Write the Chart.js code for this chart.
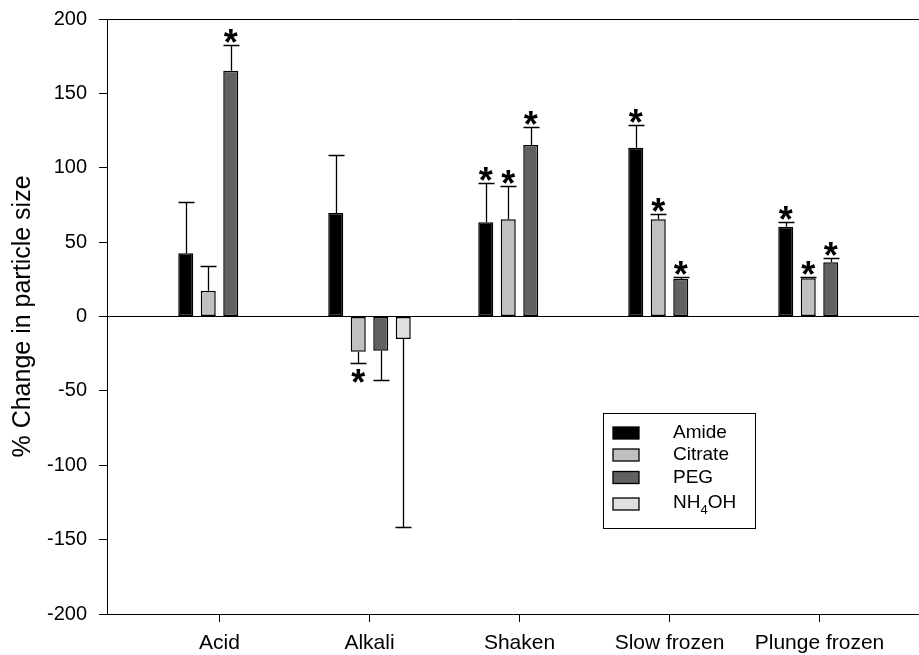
<!DOCTYPE html>
<html>
<head>
<meta charset="utf-8">
<script src="https://cdn.jsdelivr.net/npm/chart.js@4.4.0/dist/chart.umd.min.js"></script>
<style>
html, body { margin: 0; padding: 0; background: #fff; }
</style>
</head>
<body>
<canvas id="sizechart" width="919" height="655"></canvas>
<script>
var categories = ['Acid', 'Alkali', 'Shaken', 'Slow frozen', 'Plunge frozen'];
var amide   = [42.5, 69.5, 63.3, 113.5, 60.4];
var citrate = [17.3, -23.7, 65.3, 65.3, 25.7];
var peg     = [165.2, -23.0, 115.3, 25.2, 36.4];
var nh4oh   = [null, -15.1, null, null, null];
// end of each error bar (mean + SD, or mean - SD for the negative bars)
var amideErr   = [76.8, 108.6, 90.0, 129.0, 63.7];
var citrateErr = [34.2, -31.5, 87.5, 69.1, 26.8];
var pegErr     = [182.7, -42.7, 127.6, 26.8, 39.5];
var nh4ohErr   = [null, -141.3, null, null, null];
// asterisk = significant change
var amideSig   = [false, false, true, true, true];
var citrateSig = [false, true, true, true, true];
var pegSig     = [true, false, true, true, true];
var nh4ohSig   = [false, false, false, false, false];

var FONT = '"Liberation Sans", Arial, sans-serif';

function pts(vals) {
    return vals.map(function (v, i) { return { x: i + 1, y: v }; });
}

function makeSet(label, vals, errs, sig, color) {
    return {
        label: label,
        data: pts(vals),
        errs: errs,
        sig: sig,
        backgroundColor: color,
        borderColor: '#000',
        borderWidth: 1.5,
        borderSkipped: false
    };
}

var errorBars = {
    id: 'errorBars',
    afterDatasetsDraw: function (chart) {
        var ctx = chart.ctx, ys = chart.scales.y;
        ctx.save();
        ctx.strokeStyle = '#000';
        ctx.fillStyle = '#000';
        ctx.lineWidth = 1.3;
        ctx.font = 'bold 36px ' + FONT;
        ctx.textAlign = 'left';
        ctx.textBaseline = 'alphabetic';
        var m = ctx.measureText('*');
        chart.data.datasets.forEach(function (ds, i) {
            var meta = chart.getDatasetMeta(i);
            meta.data.forEach(function (bar, j) {
                if (ds.data[j].y === null || ds.errs[j] === null) return;
                var x = Math.round(bar.x) + 0.5;
                var yEnd = Math.round(ys.getPixelForValue(ds.errs[j])) + 0.5;
                ctx.beginPath();
                ctx.moveTo(x, bar.y);
                ctx.lineTo(x, yEnd);
                ctx.moveTo(x - 8, yEnd);
                ctx.lineTo(x + 8, yEnd);
                ctx.stroke();
                if (ds.sig[j]) {
                    var x0 = bar.x - (m.actualBoundingBoxRight - m.actualBoundingBoxLeft) / 2;
                    var base;
                    if (ds.data[j].y >= 0) {
                        base = yEnd - 3 - m.actualBoundingBoxDescent;
                    } else {
                        base = yEnd + 5 + m.actualBoundingBoxAscent;
                    }
                    ctx.fillText('*', x0, base);
                }
            });
        });
        ctx.restore();
    }
};

var boxLegend = {
    id: 'boxLegend',
    afterDraw: function (chart) {
        var ctx = chart.ctx;
        var rows = [433, 455, 477.5, 503];
        ctx.save();
        ctx.strokeStyle = '#000';
        ctx.lineWidth = 1;
        ctx.strokeRect(603.5, 413.5, 152, 115);
        ctx.font = '19px ' + FONT;
        ctx.textBaseline = 'middle';
        ctx.textAlign = 'left';
        chart.data.datasets.forEach(function (ds, i) {
            var cy = rows[i];
            var sy = i === 3 ? 504 : cy;
            ctx.fillStyle = ds.backgroundColor;
            ctx.fillRect(613, sy - 6, 26, 12);
            ctx.lineWidth = 1.3;
            ctx.strokeRect(613, sy - 6, 26, 12);
            ctx.fillStyle = '#000';
            if (ds.label === 'NH4OH') {
                var tx = 673;
                ctx.font = '19px ' + FONT;
                ctx.fillText('NH', tx, cy);
                tx += ctx.measureText('NH').width;
                ctx.font = '13px ' + FONT;
                ctx.fillText('4', tx, cy + 7);
                tx += ctx.measureText('4').width;
                ctx.font = '19px ' + FONT;
                ctx.fillText('OH', tx, cy);
            } else {
                ctx.fillText(ds.label, 673, cy);
            }
        });
        ctx.restore();
    }
};

var sizectx = document.getElementById('sizechart').getContext('2d');
var sizechart = new Chart(sizectx, {
    type: 'bar',
    data: {
        datasets: [
            makeSet('Amide', amide, amideErr, amideSig, '#000000'),
            makeSet('Citrate', citrate, citrateErr, citrateSig, '#c0c0c0'),
            makeSet('PEG', peg, pegErr, pegSig, '#616161'),
            makeSet('NH4OH', nh4oh, nh4ohErr, nh4ohSig, '#e0e0e0')
        ]
    },
    options: {
        responsive: false,
        animation: false,
        devicePixelRatio: 1,
        categoryPercentage: 0.6,
        barPercentage: 0.667,
        layout: { padding: { top: 19, right: 0, bottom: 0, left: 0 } },
        plugins: {
            legend: { display: false },
            tooltip: { enabled: false }
        },
        scales: {
            x: {
                type: 'linear',
                offset: false,
                min: 0.25,
                max: 0.25 + 812 / 150,
                afterBuildTicks: function (axis) {
                    axis.ticks = categories.map(function (c, i) { return { value: i + 1 }; });
                },
                afterFit: function (axis) { axis.height = 41; },
                grid: { offset: false, drawOnChartArea: false, drawTicks: true, tickLength: 8, tickColor: '#000', tickWidth: 1 },
                border: { display: true, color: '#000', width: 1 },
                ticks: {
                    color: '#000',
                    font: { family: FONT, size: 21 },
                    padding: 9,
                    maxRotation: 0,
                    autoSkip: false,
                    callback: function (v) { return categories[v - 1] || ''; }
                }
            },
            y: {
                min: -200,
                max: 200,
                afterFit: function (axis) {
                    axis.width = 107;
                    axis.paddingTop = 0;
                    axis.paddingBottom = 0;
                },
                grid: {
                    drawOnChartArea: true,
                    drawTicks: true,
                    tickLength: 8,
                    tickColor: '#000',
                    lineWidth: 1,
                    color: function (c) {
                        return (c.tick && (c.tick.value === 0 || c.tick.value === 200)) ? '#000' : 'rgba(0,0,0,0)';
                    }
                },
                border: { display: true, color: '#000', width: 1 },
                ticks: {
                    stepSize: 50,
                    color: '#000',
                    font: { family: FONT, size: 20 },
                    padding: 12
                },
                title: {
                    display: true,
                    text: '% Change in particle size',
                    color: '#000',
                    font: { family: FONT, size: 25 },
                    padding: { top: 8, bottom: 0 }
                }
            }
        }
    },
    plugins: [errorBars, boxLegend]
});
</script>
</body>
</html>
